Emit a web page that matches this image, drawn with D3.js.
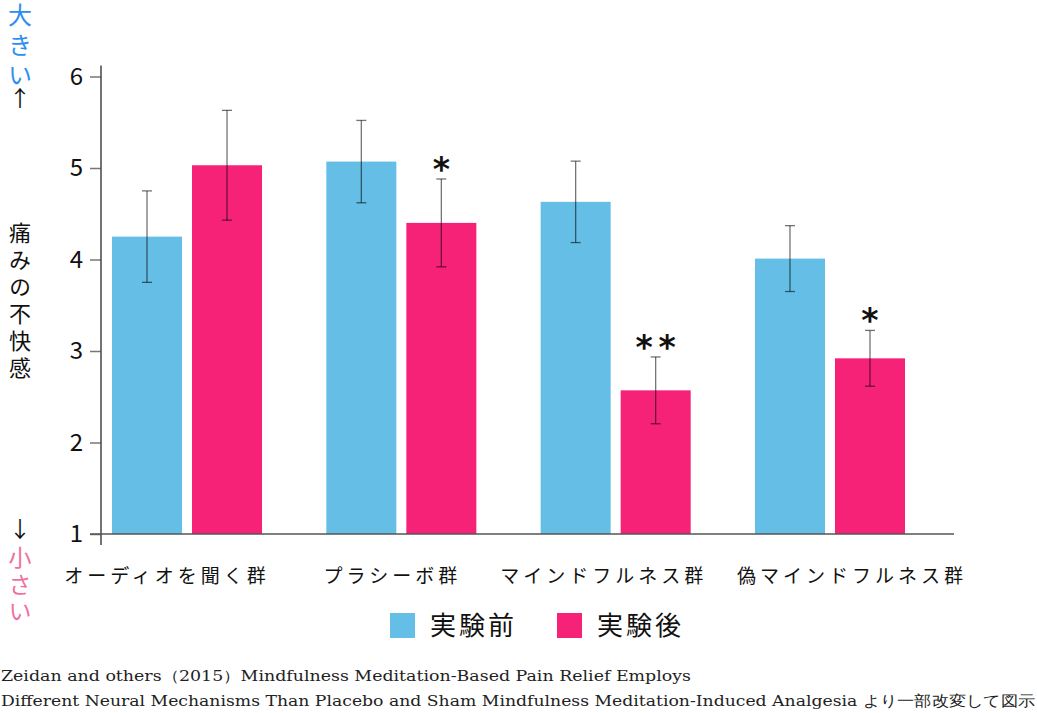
<!DOCTYPE html>
<html>
<head>
<meta charset="utf-8">
<script src="https://cdn.jsdelivr.net/npm/d3@7"></script>
<style>
  html, body { margin: 0; padding: 0; background: #fff; }
  svg { display: block; }
</style>
</head>
<body>
<svg id="chart" width="1037" height="713"></svg>
<script>
// ---- data ----
const groups = ["オーディオを聞く群", "プラシーボ群", "マインドフルネス群", "偽マインドフルネス群"];
const seriesNames = ["実験前", "実験後"];
const beforeValues = [4.25, 5.07, 4.63, 4.01];
const beforeErrors = [0.50, 0.45, 0.445, 0.36];
const afterValues = [5.03, 4.40, 2.57, 2.92];
const afterErrors = [0.60, 0.48, 0.365, 0.305];
const significance = ["", "*", "**", "*"];
const yTicks = [1, 2, 3, 4, 5, 6];
const footerLines = [
  "Zeidan  and others（2015）Mindfulness Meditation-Based Pain Relief Employs",
  "Different Neural Mechanisms Than Placebo and Sham Mindfulness Meditation-Induced Analgesia より一部改変して図示"
];

// ---- layout / styles ----
const colors = ["#64bee6", "#f52278"];
const jp = "'Noto Sans CJK JP', 'Noto Sans', sans-serif";
const labelShift = [-22, -11, -14, 20]; // category label offsets as in the original layout

const svg = d3.select("#chart");

const axisX = 101;
const y = d3.scaleLinear().domain([1, 6]).range([534, 76.5]);
const x0 = d3.scaleBand().domain(groups).range([112, 905]).paddingInner(0.3).paddingOuter(0);
const x1 = d3.scaleBand().domain(seriesNames).range([0, x0.bandwidth()]).paddingInner(0.125).paddingOuter(0);

const rows = groups.map((g, i) => ({
  group: g,
  sig: significance[i],
  bars: [
    { series: seriesNames[0], value: beforeValues[i], err: beforeErrors[i], color: colors[0] },
    { series: seriesNames[1], value: afterValues[i], err: afterErrors[i], color: colors[1] }
  ]
}));

// bars
const gGroups = svg.append("g").selectAll("g").data(rows).join("g")
  .attr("transform", d => `translate(${x0(d.group)},0)`);

gGroups.selectAll("rect").data(d => d.bars).join("rect")
  .attr("x", d => x1(d.series))
  .attr("y", d => y(d.value))
  .attr("width", x1.bandwidth())
  .attr("height", d => y(1) - y(d.value))
  .attr("fill", d => d.color);

// error bars
const eb = gGroups.selectAll("g.err").data(d => d.bars).join("g").attr("class", "err")
  .attr("stroke", "#000").attr("stroke-opacity", 0.55).attr("stroke-width", 1.3);
eb.append("line")
  .attr("x1", d => x1(d.series) + x1.bandwidth() / 2)
  .attr("x2", d => x1(d.series) + x1.bandwidth() / 2)
  .attr("y1", d => y(d.value + d.err))
  .attr("y2", d => y(d.value - d.err));
[1, -1].forEach(s => {
  eb.append("line")
    .attr("x1", d => x1(d.series) + x1.bandwidth() / 2 - 5)
    .attr("x2", d => x1(d.series) + x1.bandwidth() / 2 + 5)
    .attr("y1", d => y(d.value + s * d.err))
    .attr("y2", d => y(d.value + s * d.err));
});

// significance stars
rows.forEach(r => {
  const n = r.sig.length;
  if (!n) return;
  const b = r.bars[1];
  const cx = x0(r.group) + x1(b.series) + x1.bandwidth() / 2;
  const top = y(b.value + b.err);
  for (let k = 0; k < n; k++) {
    svg.append("text")
      .attr("x", cx + (k - (n - 1) / 2) * 23)
      .attr("y", top + 2)
      .attr("text-anchor", "middle")
      .attr("font-family", "'DejaVu Sans', sans-serif")
      .attr("font-weight", "bold")
      .attr("font-size", 33)
      .attr("fill", "#111")
      .text("*");
  }
});

// y axis
const yAxis = svg.append("g").attr("transform", `translate(${axisX},0)`)
  .call(d3.axisLeft(y).tickValues(yTicks).tickFormat(d3.format("d")).tickSize(11).tickPadding(7));
yAxis.select(".domain").remove();
yAxis.selectAll(".tick line").attr("stroke", "#777").attr("stroke-width", 1.5);
yAxis.selectAll(".tick text")
  .attr("font-family", jp).attr("font-size", 24).attr("fill", "#111");

// axis lines
svg.append("line")
  .attr("x1", axisX).attr("x2", axisX)
  .attr("y1", y(6) - 11).attr("y2", y(1) + 11)
  .attr("stroke", "#444").attr("stroke-width", 1.5);
svg.append("line")
  .attr("x1", axisX - 11).attr("x2", 954)
  .attr("y1", y(1)).attr("y2", y(1))
  .attr("stroke", "#555").attr("stroke-width", 1.5);

// category labels
svg.append("g").selectAll("text").data(groups).join("text")
  .attr("x", (d, i) => x0(d) + x0.bandwidth() / 2 + labelShift[i] + 2)
  .attr("y", 583)
  .attr("text-anchor", "middle")
  .attr("font-family", jp)
  .attr("font-size", 19)
  .attr("letter-spacing", 4)
  .attr("fill", "#111")
  .text(d => d);

// left vertical labels (written vertically)
function vText(str, x, y0, size, spacing, color) {
  svg.append("text")
    .attr("x", x).attr("y", y0)
    .attr("writing-mode", "vertical-rl")
    .style("writing-mode", "vertical-rl")
    .attr("font-family", jp).attr("font-size", size)
    .attr("letter-spacing", spacing)
    .attr("fill", color).text(str);
}
function arrow(ch, x, yb) {
  svg.append("text")
    .attr("x", x).attr("y", yb)
    .attr("text-anchor", "middle")
    .attr("font-family", jp).attr("font-size", 22)
    .attr("fill", "#111").text(ch);
}
vText("大きい", 20, 3, 24, 6, "#2a8ef0");
arrow("↑", 20, 106);
vText("痛みの不快感", 20, 222, 22, 5, "#111");
arrow("↓", 20, 537);
vText("小さい", 20, 546, 23, 4, "#f06ea0");

// legend
const legend = svg.append("g").selectAll("g").data(seriesNames).join("g")
  .attr("transform", (d, i) => `translate(${390 + i * 167},613)`);
legend.append("rect").attr("width", 25).attr("height", 25).attr("fill", (d, i) => colors[i]);
legend.append("text").attr("x", 40).attr("y", 22)
  .attr("font-family", jp).attr("font-size", 26).attr("letter-spacing", 3)
  .attr("fill", "#111").text(d => d);

// footer
svg.append("g").selectAll("text").data(footerLines).join("text")
  .attr("x", 1).attr("y", (d, i) => 681 + i * 25)
  .attr("font-family", "'DejaVu Serif', serif")
  .attr("font-size", 15)
  .attr("fill", "#222")
  .attr("textLength", (d, i) => [690, 1034][i])
  .attr("lengthAdjust", "spacingAndGlyphs")
  .text(d => d);
</script>
</body>
</html>
